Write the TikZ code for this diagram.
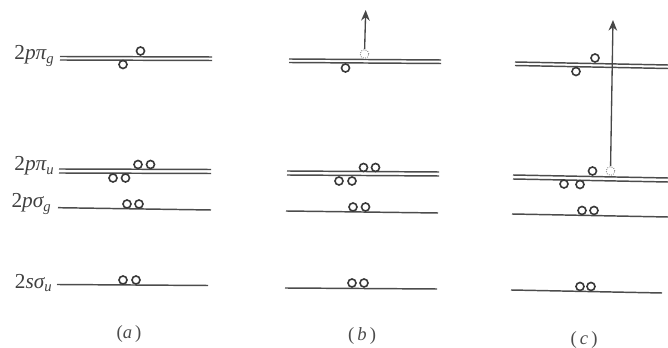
\documentclass[tikz,border=0pt]{standalone}
\usepackage{fontspec}
\setmainfont{Liberation Serif}
\usetikzlibrary{arrows.meta}
\newcommand{\lvlabel}[3]{2{\itshape #1#2}\raisebox{-0.4ex}{\fontsize{11}{12}\selectfont\itshape #3}}
\tikzset{
  x=0.75pt,y=-0.75pt,
  level/.style={draw=black!70,line width=1.1pt},
  elec/.style={circle,draw=black!78,line width=1.2pt,inner sep=0pt,minimum size=6pt,fill=white},
  hole/.style={circle,draw=black!45,densely dotted,line width=0.7pt,inner sep=0pt,minimum size=6.5pt,fill=white},
  lab/.style={inner sep=0pt,text=black!75,font=\fontsize{16}{18}\selectfont,anchor=east},
  capt/.style={inner sep=0pt,text=black!70,font=\fontsize{14}{16}\selectfont},
  up/.style={draw=black!72,line width=1pt,-{Stealth[length=8pt,width=6.5pt]}}
}
\newcommand{\lv}[5]{% name, x1, y1, x2, y2
  \coordinate (#1l) at (#2,#3); \coordinate (#1r) at (#4,#5);
  \draw[level] (#1l) -- (#1r);}
\begin{document}
\begin{tikzpicture}
\useasboundingbox (0,0) rectangle (668,348);
% (a)
\lv{aga}{60}{56.5}{212}{57}
\lv{agb}{60}{60}{212}{60.5}
\lv{aua}{59}{169}{211}{169.5}
\lv{aub}{59}{173}{211}{173.5}
\lv{asg}{58}{207.7}{211}{210}
\lv{asu}{57}{284.5}{208}{285.5}
\node[elec] (a1) at (140.5,51) {};
\node[elec] (a2) at (123,64.5) {};
\node[elec] (a3) at (138,164.5) {};
\node[elec] (a4) at (150.5,164.5) {};
\node[elec] (a5) at (113,178) {};
\node[elec] (a6) at (125.5,178) {};
\node[elec] (a7) at (127,204) {};
\node[elec] (a8) at (139,204) {};
\node[elec] (a9) at (123,280) {};
\node[elec] (a10) at (136,280) {};
\node[lab] (l1) at (54,56) {\lvlabel{p}{π}{g}};
\node[lab] (l2) at (54,166) {\lvlabel{p}{π}{u}};
\node[lab] (l3) at (51,204) {\lvlabel{p}{σ}{g}};
\node[lab] (l4) at (52,283) {\lvlabel{s}{σ}{u}};
\node[capt] (ca) at (129,334) {(\textit{a}\,)};
% (b)
\lv{bga}{289}{59}{441}{60}
\lv{bgb}{289}{62.5}{441}{63.5}
\lv{bua}{287}{171}{439}{172}
\lv{bub}{287}{175}{439}{176}
\lv{bsg}{286}{211}{438}{213}
\lv{bsu}{285}{288}{437}{289}
\node[elec] (b1) at (345.5,68) {};
\node[hole] (b2) at (364.5,54) {};
\node[elec] (b3) at (363.5,167.5) {};
\node[elec] (b4) at (375.5,167.5) {};
\node[elec] (b5) at (339,181) {};
\node[elec] (b6) at (352,181) {};
\node[elec] (b7) at (353,207) {};
\node[elec] (b8) at (365.5,207) {};
\node[elec] (b9) at (352,283) {};
\node[elec] (b10) at (364,283) {};
\node[capt] (cb) at (362,336) {(\,\textit{b}\,)};
\coordinate (bt) at (365.7,10);
\draw[up] (b2) -- (bt);
% (c)
\lv{cga}{515}{62}{668}{65}
\lv{cgb}{515}{65.5}{668}{68.5}
\lv{cua}{513}{175}{668}{178}
\lv{cub}{513}{179}{668}{182}
\lv{csg}{512}{214}{668}{217}
\lv{csu}{511}{290}{662}{293}
\node[elec] (c1) at (595,58) {};
\node[elec] (c2) at (576,71.5) {};
\node[elec] (c3) at (592.5,171) {};
\node[hole] (c4) at (610.5,171) {};
\node[elec] (c5) at (564,184) {};
\node[elec] (c6) at (580,184.5) {};
\node[elec] (c7) at (582,210.5) {};
\node[elec] (c8) at (594,210.5) {};
\node[elec] (c9) at (580,286.5) {};
\node[elec] (c10) at (591,286.5) {};
\node[capt] (cc) at (584,340) {(\,\textit{c}\,)};
\coordinate (ct) at (613,20);
\draw[up] (c4) -- (ct);
\end{tikzpicture}
\end{document}
